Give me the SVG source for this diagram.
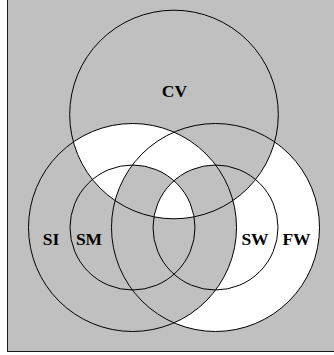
<svg xmlns="http://www.w3.org/2000/svg" width="334" height="355" viewBox="0 0 334 355">
  <style>
    .ring { fill: none; stroke: #000; stroke-width: 1; }
    .wf { fill: #fff; stroke: none; }
    .lbl { font-family: "Liberation Serif", "Times New Roman", serif; font-weight: bold; font-size: 17.5px; fill: #000; text-anchor: middle; }
  </style>
  <defs>
    <clipPath id="cCV"><circle cx="174" cy="114.5" r="104.3"/></clipPath>
    <clipPath id="cSI"><circle cx="132.5" cy="227.5" r="104"/></clipPath>
    <clipPath id="cSM"><circle cx="132.5" cy="227.5" r="62.5"/></clipPath>
    <mask id="mNotFW" maskUnits="userSpaceOnUse" x="0" y="0" width="334" height="355">
      <rect x="0" y="0" width="334" height="355" fill="#fff"/>
      <circle cx="215.5" cy="227.5" r="104" fill="#000"/>
    </mask>
    <mask id="mNotSICV" maskUnits="userSpaceOnUse" x="0" y="0" width="334" height="355">
      <rect x="0" y="0" width="334" height="355" fill="#fff"/>
      <circle cx="132.5" cy="227.5" r="104" fill="#000"/>
      <circle cx="174" cy="114.5" r="104.3" fill="#000"/>
    </mask>
    <mask id="mNotSMSW" maskUnits="userSpaceOnUse" x="0" y="0" width="334" height="355">
      <rect x="0" y="0" width="334" height="355" fill="#fff"/>
      <circle cx="132.5" cy="227.5" r="62.5" fill="#000"/>
      <circle cx="215.5" cy="227.5" r="62.5" fill="#000"/>
    </mask>
  </defs>
  <rect x="0" y="0" width="334" height="355" fill="#fff"/>
  <rect id="frame" x="7.5" y="-5" width="340" height="356.5" fill="#c0c0c0" stroke="#1a1a1a" stroke-width="1"/>
  <g id="regions">
    <g clip-path="url(#cCV)"><circle class="wf" cx="132.5" cy="227.5" r="104" mask="url(#mNotFW)"/></g>
    <circle class="wf" cx="215.5" cy="227.5" r="104" mask="url(#mNotSICV)"/>
    <g clip-path="url(#cCV)"><g clip-path="url(#cSI)"><circle class="wf" cx="215.5" cy="227.5" r="104" mask="url(#mNotSMSW)"/></g></g>
    <g clip-path="url(#cCV)"><g clip-path="url(#cSM)"><circle class="wf" cx="215.5" cy="227.5" r="62.5"/></g></g>
  </g>
  <g id="CV">
    <circle class="ring" cx="174" cy="114.5" r="104.3"/>
    <text class="lbl" x="174.5" y="97">CV</text>
  </g>
  <g id="SI">
    <circle class="ring" cx="132.5" cy="227.5" r="104"/>
    <text class="lbl" x="51" y="245">SI</text>
  </g>
  <g id="SM">
    <circle class="ring" cx="132.5" cy="227.5" r="62.5"/>
    <text class="lbl" x="89" y="245">SM</text>
  </g>
  <g id="FW">
    <circle class="ring" cx="215.5" cy="227.5" r="104"/>
    <text class="lbl" x="296.5" y="245">FW</text>
  </g>
  <g id="SW">
    <circle class="ring" cx="215.5" cy="227.5" r="62.5"/>
    <text class="lbl" x="255" y="245">SW</text>
  </g>
</svg>
